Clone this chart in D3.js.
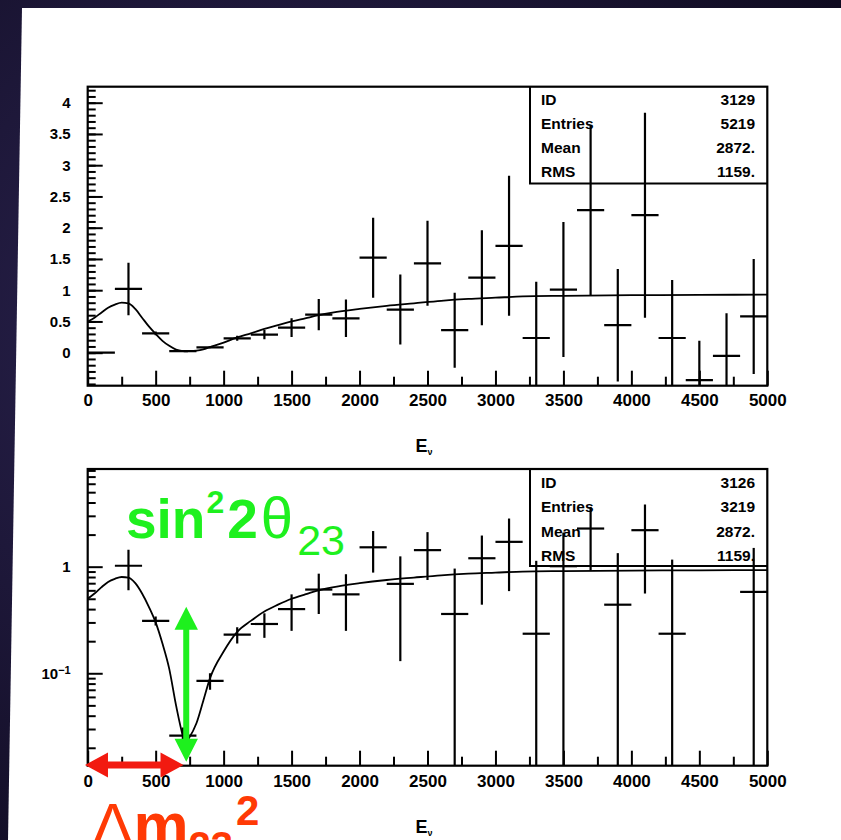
<!DOCTYPE html>
<html>
<head>
<meta charset="utf-8">
<script src="https://cdn.jsdelivr.net/npm/d3@7"></script>
<style>
body{margin:0;background:#17132e;overflow:hidden}
text{font-family:"Liberation Sans",Arial,sans-serif}
</style>
</head>
<body>
<script>
var width=841,height=840;

// histogram: 25 bins of 200 in E
var binCenters=[100,300,500,700,900,1100,1300,1500,1700,1900,2100,2300,2500,2700,2900,3100,3300,3500,3700,3900,4100,4300,4500,4700,4900];
var binWidth=200;
var counts=[0,1.02,0.31,0.026,0.085,0.23,0.29,0.4,0.61,0.55,1.52,0.69,1.43,0.36,1.2,1.71,0.235,1.01,2.28,0.44,2.2,0.235,-0.44,-0.05,0.58];
var errors=[0,0.42,0.03,0.005,0.015,0.04,0.075,0.15,0.25,0.3,0.64,0.56,0.68,0.6,0.76,1.12,0.9,1.08,1.36,0.9,1.64,0.93,0.63,0.68,0.92];

// fitted curve
var fitE=[0,50,100,150,200,250,300,350,400,450,500,550,600,650,700,720,740,800,850,900,1000,1100,1200,1300,1400,1500,1600,1700,1800,2000,2200,2400,2600,2800,3000,3200,3500,4000,4500,5000];
var fitY=[0.5,0.56,0.64,0.72,0.77,0.8,0.79,0.7,0.56,0.42,0.3,0.19,0.11,0.05,0.026,0.022,0.024,0.034,0.055,0.09,0.16,0.245,0.31,0.38,0.44,0.5,0.55,0.6,0.64,0.7,0.75,0.79,0.83,0.86,0.88,0.9,0.91,0.92,0.925,0.93];

var xTicks=[0,500,1000,1500,2000,2500,3000,3500,4000,4500,5000];
var yTicksLin=[0,0.5,1,1.5,2,2.5,3,3.5,4];
var yTicksLog=[0.1,1];

var statNames=["ID","Entries","Mean","RMS"];
var statsTop=["3129","5219","2872.","1159."];
var statsBottom=["3126","3219","2872.","1159."];

// annotation anchors (data coordinates)
var redArrowE=[-20,705];
var greenArrowE=725, greenArrowY=[0.0148,0.42];

var green="#1ef01e", red="#f21a10", redText="#ff3a05";

var svg=d3.select("body").append("svg").attr("width",width).attr("height",height);

// slide background + white sheet
var defs=svg.append("defs");
var rg=defs.append("radialGradient").attr("id","bg").attr("cx","30%").attr("cy","40%").attr("r","80%");
rg.append("stop").attr("offset","0%").attr("stop-color","#2c2452");
rg.append("stop").attr("offset","100%").attr("stop-color","#0f0b20");
svg.append("rect").attr("width",width).attr("height",height).attr("fill","url(#bg)");
svg.append("polygon").attr("points","22,8 841,8 841,840 8,840").attr("fill","#fff");

var L=87.7,R=767.3;
var x=d3.scaleLinear().domain([0,5000]).range([L,R]);

function styleAxis(a){
	a.select(".domain").remove();
	a.selectAll("line").attr("stroke","#000").attr("stroke-width",2);
	a.selectAll("text").attr("fill","#000").style("font-weight","bold");
}

function drawPanel(opt){
	var T=opt.top,B=opt.bottom,y=opt.y,id=opt.id;
	var g=svg.append("g");
	defs.append("clipPath").attr("id",id).append("rect").attr("x",L).attr("y",T).attr("width",R-L).attr("height",B-T);

	// x ticks (inward)
	g.append("g").attr("transform","translate(0,"+B+")")
		.call(d3.axisBottom(x).tickValues(d3.range(250,5000,500)).tickSize(-9).tickFormat(""))
		.call(styleAxis);
	g.append("g").attr("transform","translate(0,"+B+")")
		.call(d3.axisBottom(x).tickValues(xTicks).tickSize(-15).tickPadding(opt.xpad).tickFormat(d3.format("d")))
		.call(styleAxis)
		.selectAll("text").style("font-size","17px");

	// y ticks (inward)
	g.append("g").attr("transform","translate("+L+",0)")
		.call(d3.axisLeft(y).tickValues(opt.yMinor).tickSize(-8).tickFormat(""))
		.call(styleAxis);
	var ya=g.append("g").attr("transform","translate("+L+",0)")
		.call(d3.axisLeft(y).tickValues(opt.yMajor).tickSize(-15).tickPadding(17).tickFormat(opt.fmt))
		.call(styleAxis);
	ya.selectAll("text").style("font-size","15px");
	if(opt.log){
		ya.selectAll("text").filter(d=>d<1).text(null).each(function(){
			var t=d3.select(this);
			t.append("tspan").text("10");
			t.append("tspan").attr("dy","-0.45em").style("font-size","11px").text("\u22121");
		});
	}

	var plot=g.append("g").attr("clip-path","url(#"+id+")");

	// fit curve
	var line=d3.line().x((d,i)=>x(fitE[i])).y(d=>y(d)).curve(d3.curveMonotoneX);
	plot.append("path").datum(fitY).attr("d",line).attr("fill","none").attr("stroke","#000").attr("stroke-width",1.8);

	// data crosses
	var pts=binCenters.map((c,i)=>({c:c,v:counts[i],e:errors[i]})).filter(d=>!opt.log||d.v>0);
	var cross=plot.selectAll("g.pt").data(pts).enter().append("g").attr("class","pt");
	cross.append("line")
		.attr("x1",d=>x(d.c-binWidth/2)).attr("x2",d=>x(d.c+binWidth/2))
		.attr("y1",d=>y(d.v)).attr("y2",d=>y(d.v))
		.attr("stroke","#000").attr("stroke-width",2.2);
	cross.filter(d=>d.e>0).append("line")
		.attr("x1",d=>x(d.c)).attr("x2",d=>x(d.c))
		.attr("y1",d=>y(d.v+d.e))
		.attr("y2",d=>(opt.log&&d.v-d.e<=y.domain()[0])?B+2:y(d.v-d.e))
		.attr("stroke","#000").attr("stroke-width",2.2);

	// frame
	g.append("rect").attr("x",L).attr("y",T).attr("width",R-L).attr("height",B-T)
		.attr("fill","none").attr("stroke","#000").attr("stroke-width",2.2);

	// stats box
	g.append("path").attr("d","M530,"+T+"V"+opt.boxBottom+"H"+R)
		.attr("fill","none").attr("stroke","#000").attr("stroke-width",2);
	var st=g.append("g").style("font-size","15.5px").style("font-weight","bold");
	st.selectAll("text.n").data(statNames).enter().append("text").attr("class","n")
		.attr("x",541).attr("y",(d,i)=>opt.rows[i]).text(d=>d);
	st.selectAll("text.v").data(opt.stats).enter().append("text").attr("class","v")
		.attr("x",755).attr("y",(d,i)=>opt.rows[i]).attr("text-anchor","end").text(d=>d);

	// axis title
	var t=g.append("text").attr("x",424).attr("y",opt.titleY).attr("text-anchor","middle")
		.style("font-size","18px").style("font-weight","bold");
	t.append("tspan").text("E");
	t.append("tspan").attr("dy",3).style("font-size","9px").text("\u03bd");
}

var yTop=d3.scaleLinear().domain([-0.528,4.256]).range([385.7,86.7]);
drawPanel({id:"c1",top:86.7,bottom:385.7,y:yTop,log:false,
	yMajor:yTicksLin,yMinor:d3.range(-0.5,4.25,0.1),fmt:d=>d,xpad:8,
	boxBottom:183.5,rows:[105,129,153,177],stats:statsTop,titleY:452});

var logMinor=[];
[0.01,0.1,1].forEach(p=>{for(var k=2;k<=9;k++){var v=k*p; if(v>0.0136&&v<8.25) logMinor.push(v);}});
var yBot=d3.scaleLog().domain([0.01358,8.25]).range([765.7,469]);
drawPanel({id:"c2",top:469,bottom:765.7,y:yBot,log:true,
	yMajor:yTicksLog,yMinor:logMinor,fmt:d=>d>=1?"1":"",xpad:9,
	boxBottom:566,rows:[488,512,537,561],stats:statsBottom,titleY:833});

// annotations
var ax0=x(redArrowE[0]),ax1=x(redArrowE[1]),ay=765;
svg.append("path").attr("fill",red).attr("d",
	"M"+ax0+","+ay+"L"+(ax0+23)+","+(ay-12.5)+"V"+(ay-3.5)+"H"+(ax1-23)+"V"+(ay-12.5)+
	"L"+ax1+","+ay+"L"+(ax1-23)+","+(ay+12.5)+"V"+(ay+3.5)+"H"+(ax0+23)+"V"+(ay+12.5)+"Z");

var gx=x(greenArrowE),gy0=yBot(greenArrowY[0]),gy1=yBot(greenArrowY[1]);
svg.append("path").attr("fill",green).attr("d",
	"M"+gx+","+gy1+"L"+(gx+11.7)+","+(gy1+23)+"H"+(gx+3)+"V"+(gy0-23)+"H"+(gx+11.7)+
	"L"+gx+","+gy0+"L"+(gx-11.7)+","+(gy0-23)+"H"+(gx-3)+"V"+(gy1+23)+"H"+(gx-11.7)+"Z");

var s=svg.append("text").attr("x",126).attr("y",538).attr("fill",green)
	.style("font-size","55px").style("font-weight","bold");
s.append("tspan").text("sin");
s.append("tspan").attr("dy",-25).attr("dx",1).style("font-size","32px").text("2");
s.append("tspan").attr("dy",25).attr("dx",3).text("2");
s.append("tspan").attr("dx",3).style("font-weight","normal").style("font-size","58px").text("\u03b8");
s.append("tspan").attr("dy",17).attr("dx",4).style("font-weight","normal").style("font-size","43px").text("23");

var m=svg.append("text").attr("x",92).attr("y",846).attr("fill",redText)
	.style("font-size","62px");
m.append("tspan").text("\u0394");
m.append("tspan").style("font-weight","bold").text("m");
m.append("tspan").attr("dy",14).style("font-weight","bold").style("font-size","40px").text("23");
m.append("tspan").attr("dy",-35).attr("dx",3).style("font-weight","bold").style("font-size","42px").text("2");
</script>
</body>
</html>
